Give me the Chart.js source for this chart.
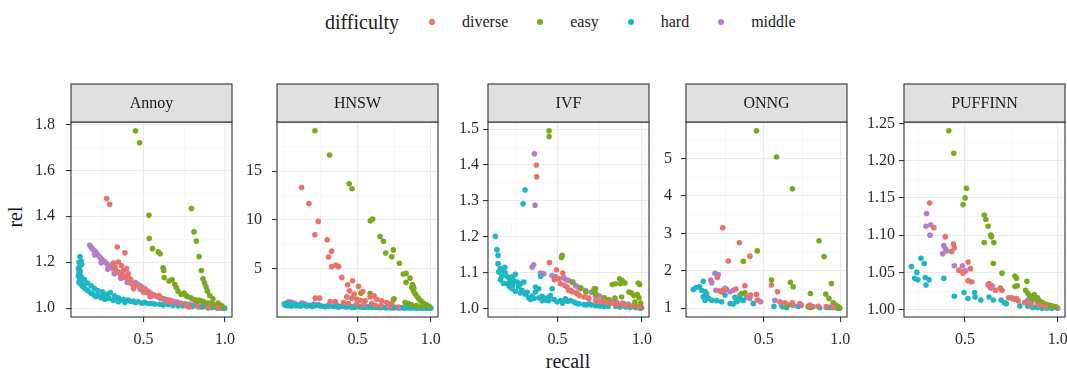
<!DOCTYPE html>
<html>
<head>
<meta charset="utf-8">
<script src="https://cdn.jsdelivr.net/npm/chart.js@4.4.0/dist/chart.umd.min.js"></script>
<style>
  html, body { margin: 0; padding: 0; background: #fff; }
  body { width: 1067px; height: 370px; overflow: hidden; position: relative;
         font-family: "Liberation Serif", "DejaVu Serif", serif; color: #1a1a1a; }
  canvas { position: absolute; }
  .lab { position: absolute; white-space: nowrap; line-height: 1; }
  #legend { position: absolute; left: 325px; top: 9px; height: 26px; display: flex; align-items: center; }
  #legend .title { font-size: 20px; margin-right: 30px; }
  #legend .dot { width: 6px; height: 6px; border-radius: 50%; margin-right: 27px; }
  #legend .txt { font-size: 16px; margin-right: 29px; }
</style>
</head>
<body>
<div id="legend"></div>
<div class="lab" id="ytitle" style="left:15px; top:217px; font-size:20px; transform:translate(-50%,-50%) rotate(-90deg);">rel</div>
<div class="lab" id="xtitle" style="left:568px; top:361px; font-size:20px; transform:translate(-50%,-50%);">recall</div>

<script>
// ---- categories ----
const algorithms = ['Annoy', 'HNSW', 'IVF', 'ONNG', 'PUFFINN'];
const difficulties = ['diverse', 'easy', 'hard', 'middle'];
const difficultyColors = ['#EC7169', '#79AA1E', '#1DB7C3', '#B47EC8'];

// ---- tick breaks and labels ----
const xBreaks = [0.5, 1.0];
const xLabels = ['0.5', '1.0'];
const annoyYBreaks = [1.0, 1.2, 1.4, 1.6, 1.8];
const annoyYLabels = ['1.0', '1.2', '1.4', '1.6', '1.8'];
const hnswYBreaks = [5, 10, 15];
const hnswYLabels = ['5', '10', '15'];
const ivfYBreaks = [1.0, 1.1, 1.2, 1.3, 1.4, 1.5];
const ivfYLabels = ['1.0', '1.1', '1.2', '1.3', '1.4', '1.5'];
const onngYBreaks = [1, 2, 3, 4, 5];
const onngYLabels = ['1', '2', '3', '4', '5'];
const puffinnYBreaks = [1.00, 1.05, 1.10, 1.15, 1.20, 1.25];
const puffinnYLabels = ['1.00', '1.05', '1.10', '1.15', '1.20', '1.25'];

// ---- measurements: [recall, rel] ----
const annoyDiverse = [[0.274,1.477],[0.292,1.452],[0.339,1.266],[0.386,1.241],[0.314,1.196],[0.325,1.179],[0.345,1.201],[0.365,1.186],[0.376,1.164],[0.396,1.172],[0.406,1.150],[0.416,1.128],[0.427,1.106],[0.447,1.099],[0.478,1.092],[0.508,1.084],[0.529,1.070],[0.559,1.055],[0.594,1.055],[0.620,1.041],[0.672,1.026],[0.722,1.019],[0.763,1.012],[0.835,1.007],[0.896,1.001],[0.957,1.001],[0.335,1.160],[0.355,1.150],[0.385,1.135],[0.440,1.085],[0.500,1.070],[0.540,1.050],[0.650,1.030],[0.780,1.005]];
const annoyEasy = [[0.451,1.772],[0.476,1.720],[0.533,1.404],[0.535,1.303],[0.555,1.259],[0.590,1.245],[0.602,1.237],[0.620,1.176],[0.624,1.164],[0.627,1.133],[0.657,1.118],[0.675,1.124],[0.692,1.103],[0.702,1.089],[0.712,1.074],[0.749,1.066],[0.769,1.051],[0.790,1.045],[0.818,1.036],[0.845,1.034],[0.871,1.026],[0.900,1.022],[0.926,1.016],[0.957,1.010],[0.988,1.004],[0.794,1.434],[0.810,1.332],[0.824,1.292],[0.841,1.225],[0.855,1.164],[0.865,1.128],[0.875,1.109],[0.884,1.092],[0.892,1.074],[0.906,1.055],[0.926,1.041],[0.957,1.022],[0.977,1.012],[0.730,1.060],[0.760,1.055],[0.800,1.040],[0.830,1.030],[0.860,1.030],[0.890,1.020],[0.920,1.020],[0.940,1.012],[0.970,1.006]];
const annoyHard = [[0.110,1.225],[0.117,1.205],[0.121,1.191],[0.100,1.172],[0.104,1.153],[0.117,1.138],[0.137,1.124],[0.157,1.109],[0.178,1.098],[0.198,1.086],[0.219,1.077],[0.247,1.071],[0.272,1.060],[0.296,1.068],[0.321,1.054],[0.345,1.045],[0.376,1.039],[0.406,1.035],[0.437,1.031],[0.467,1.028],[0.508,1.025],[0.549,1.020],[0.600,1.017],[0.651,1.015],[0.712,1.010],[0.773,1.009],[0.835,1.006],[0.896,1.004],[0.957,1.001],[0.998,1.000],[0.104,1.113],[0.125,1.095],[0.151,1.080],[0.178,1.065],[0.206,1.051],[0.239,1.045],[0.263,1.039],[0.288,1.042],[0.314,1.033],[0.345,1.028],[0.386,1.025],[0.105,1.200],[0.108,1.180],[0.112,1.160],[0.100,1.140],[0.108,1.125],[0.115,1.105],[0.130,1.100],[0.140,1.085],[0.160,1.075],[0.190,1.060],[0.220,1.055],[0.250,1.050],[0.280,1.050],[0.330,1.040],[0.360,1.035],[0.420,1.030],[0.450,1.025],[0.490,1.022],[0.530,1.020],[0.570,1.018],[0.620,1.014],[0.680,1.012],[0.740,1.010],[0.800,1.007],[0.860,1.005],[0.920,1.003],[0.980,1.001]];
const annoyMiddle = [[0.170,1.274],[0.186,1.259],[0.206,1.245],[0.227,1.226],[0.247,1.211],[0.274,1.194],[0.298,1.179],[0.329,1.165],[0.359,1.150],[0.390,1.135],[0.421,1.124],[0.451,1.111],[0.482,1.096],[0.512,1.080],[0.543,1.066],[0.584,1.051],[0.625,1.041],[0.665,1.034],[0.706,1.026],[0.757,1.019],[0.808,1.015],[0.859,1.010],[0.910,1.006],[0.961,1.002],[0.996,1.000],[0.200,1.232],[0.240,1.198],[0.280,1.170],[0.320,1.150],[0.360,1.130],[0.400,1.112],[0.440,1.098],[0.480,1.082],[0.520,1.068],[0.560,1.055],[0.600,1.044],[0.640,1.034],[0.680,1.026],[0.720,1.020],[0.760,1.014],[0.800,1.010],[0.850,1.006],[0.900,1.003],[0.950,1.001],[0.178,1.266],[0.196,1.252],[0.216,1.236],[0.237,1.218],[0.260,1.203],[0.286,1.186],[0.313,1.172],[0.344,1.157],[0.375,1.142],[0.405,1.118],[0.466,1.103],[0.497,1.088],[0.528,1.073],[0.563,1.058],[0.605,1.046],[0.645,1.037],[0.685,1.030],[0.730,1.022],[0.780,1.017],[0.830,1.012],[0.880,1.008],[0.930,1.004],[0.980,1.001]];

const hnswDiverse = [[0.118,13.32],[0.168,11.68],[0.209,8.49],[0.232,9.86],[0.293,7.98],[0.302,6.23],[0.323,6.82],[0.323,5.24],[0.352,5.41],[0.370,5.24],[0.393,4.14],[0.432,3.39],[0.466,3.80],[0.445,2.77],[0.507,3.22],[0.536,2.70],[0.477,2.43],[0.427,2.15],[0.461,2.02],[0.495,1.91],[0.518,1.81],[0.552,1.74],[0.586,2.15],[0.613,2.26],[0.632,1.91],[0.666,1.74],[0.700,1.57],[0.734,1.47],[0.211,2.02],[0.241,2.02],[0.313,1.68],[0.348,1.68],[0.404,1.57],[0.438,1.47],[0.495,1.40],[0.541,1.33],[0.597,1.47],[0.620,1.30],[0.660,1.25],[0.720,1.18],[0.780,1.12]];
const hnswEasy = [[0.209,19.11],[0.309,16.64],[0.443,13.70],[0.463,13.19],[0.588,9.93],[0.604,10.10],[0.654,8.32],[0.677,7.84],[0.693,6.64],[0.745,6.95],[0.734,6.26],[0.786,5.58],[0.813,4.48],[0.832,4.55],[0.832,3.63],[0.859,4.07],[0.875,3.40],[0.880,3.25],[0.885,3.00],[0.870,3.11],[0.882,2.77],[0.893,2.50],[0.904,2.26],[0.916,2.02],[0.927,1.81],[0.938,1.68],[0.954,1.47],[0.972,1.33],[0.990,1.20],[0.523,2.53],[0.586,2.50],[0.745,1.88],[0.750,1.95],[0.825,1.57],[0.847,1.47],[0.870,1.33],[0.904,1.27],[0.938,1.20]];
const hnswHard = [[0.000,1.45],[0.005,1.30],[0.010,1.38],[0.020,1.25],[0.030,1.42],[0.040,1.33],[0.050,1.22],[0.070,1.36],[0.090,1.28],[0.110,1.20],[0.130,1.32],[0.160,1.25],[0.190,1.18],[0.220,1.30],[0.250,1.22],[0.280,1.15],[0.310,1.25],[0.340,1.18],[0.370,1.12],[0.400,1.22],[0.430,1.15],[0.460,1.10],[0.490,1.18],[0.520,1.12],[0.550,1.08],[0.580,1.15],[0.610,1.10],[0.640,1.06],[0.670,1.12],[0.700,1.08],[0.730,1.05],[0.760,1.09],[0.800,1.05],[0.840,1.04],[0.880,1.03],[0.920,1.02],[0.960,1.01],[1.000,1.00],[0.015,1.32],[0.025,1.38],[0.035,1.28],[0.045,1.40],[0.060,1.30],[0.080,1.25],[0.100,1.35],[0.120,1.27],[0.150,1.22],[0.170,1.30],[0.210,1.24],[0.240,1.28],[0.270,1.20],[0.300,1.18],[0.330,1.22],[0.360,1.15],[0.390,1.18],[0.420,1.12],[0.450,1.15],[0.480,1.10],[0.510,1.14],[0.540,1.10],[0.570,1.12],[0.600,1.08],[0.630,1.10],[0.660,1.07],[0.690,1.05],[0.720,1.07],[0.750,1.04],[0.780,1.05],[0.820,1.03],[0.860,1.03],[0.900,1.02],[0.940,1.01],[0.980,1.00]];
const hnswMiddle = [[0.020,1.55],[0.030,1.65],[0.050,1.60],[0.070,1.50],[0.120,1.52],[0.140,1.45],[0.200,1.42],[0.230,1.38],[0.300,1.30],[0.360,1.28],[0.420,1.22],[0.480,1.18],[0.550,1.14],[0.620,1.12],[0.660,1.08],[0.700,1.06],[0.740,1.05],[0.780,1.04],[0.820,1.03],[0.860,1.02],[0.900,1.01],[0.940,1.01],[0.970,1.00],[1.000,1.00]];

const ivfDiverse = [[0.375,1.400],[0.377,1.367],[0.452,1.128],[0.494,1.108],[0.531,1.099],[0.482,1.080],[0.508,1.083],[0.518,1.069],[0.543,1.064],[0.557,1.060],[0.567,1.050],[0.587,1.047],[0.611,1.043],[0.630,1.036],[0.656,1.032],[0.686,1.027],[0.725,1.022],[0.765,1.020],[0.814,1.015],[0.854,1.011],[0.903,1.008],[0.942,1.006],[0.982,1.004],[0.580,1.050],[0.620,1.040],[0.680,1.030],[0.740,1.020],[0.790,1.017],[0.840,1.012],[0.890,1.009]];
const ivfEasy = [[0.450,1.495],[0.450,1.479],[0.527,1.148],[0.523,1.142],[0.591,1.074],[0.638,1.058],[0.668,1.046],[0.717,1.055],[0.727,1.041],[0.725,1.055],[0.715,1.048],[0.775,1.030],[0.840,1.029],[0.879,1.032],[0.824,1.067],[0.843,1.069],[0.867,1.083],[0.883,1.078],[0.899,1.071],[0.873,1.069],[0.923,1.046],[0.938,1.043],[0.952,1.036],[0.972,1.039],[0.982,1.030],[0.958,1.018],[0.992,1.015],[0.978,1.071],[0.986,1.067],[0.800,1.025],[0.900,1.012],[0.950,1.008],[0.990,1.003]];
const ivfHard = [[0.132,1.201],[0.142,1.164],[0.148,1.148],[0.148,1.125],[0.162,1.111],[0.152,1.102],[0.172,1.106],[0.188,1.115],[0.162,1.080],[0.201,1.089],[0.215,1.083],[0.231,1.088],[0.251,1.095],[0.241,1.078],[0.261,1.074],[0.281,1.069],[0.300,1.074],[0.201,1.069],[0.215,1.061],[0.231,1.055],[0.251,1.048],[0.281,1.043],[0.310,1.039],[0.330,1.030],[0.350,1.035],[0.369,1.046],[0.389,1.055],[0.409,1.034],[0.429,1.024],[0.449,1.022],[0.458,1.036],[0.468,1.055],[0.409,1.022],[0.498,1.018],[0.518,1.022],[0.547,1.027],[0.577,1.022],[0.597,1.018],[0.626,1.013],[0.656,1.011],[0.686,1.013],[0.725,1.008],[0.775,1.006],[0.844,1.006],[0.903,1.004],[0.962,1.002],[0.308,1.330],[0.296,1.292],[0.400,1.090],[0.370,1.060],[0.170,1.090],[0.180,1.070],[0.190,1.100],[0.220,1.070],[0.235,1.065],[0.270,1.060],[0.290,1.050],[0.320,1.045],[0.340,1.025],[0.360,1.028],[0.390,1.030],[0.440,1.030],[0.480,1.025],[0.530,1.015],[0.560,1.020],[0.610,1.015],[0.670,1.010],[0.700,1.010],[0.750,1.007],[0.800,1.006],[0.870,1.004],[0.930,1.003],[0.990,1.001]];
const ivfMiddle = [[0.363,1.431],[0.367,1.288],[0.359,1.122],[0.350,1.115],[0.399,1.099],[0.419,1.097],[0.468,1.092],[0.488,1.089],[0.508,1.083],[0.537,1.086],[0.567,1.078],[0.587,1.074],[0.607,1.064],[0.636,1.055],[0.666,1.050],[0.725,1.036],[0.775,1.030],[0.824,1.022],[0.883,1.015],[0.962,1.006],[0.998,1.002],[0.550,1.080],[0.620,1.060],[0.700,1.045],[0.750,1.035],[0.800,1.025],[0.850,1.018],[0.920,1.012],[0.980,1.004]];

const onngDiverse = [[0.231,3.15],[0.340,2.75],[0.268,2.26],[0.409,2.39],[0.196,1.82],[0.213,1.46],[0.224,1.44],[0.235,1.48],[0.376,1.60],[0.318,1.51],[0.413,1.35],[0.452,1.37],[0.457,1.21],[0.550,1.62],[0.590,1.44],[0.605,1.17],[0.637,1.14],[0.687,1.14],[0.735,1.12],[0.800,1.08],[0.855,1.05],[0.909,1.04],[0.953,1.02]];
const onngEasy = [[0.452,5.74],[0.583,5.04],[0.687,4.19],[0.861,2.80],[0.894,2.38],[0.457,2.53],[0.366,2.25],[0.550,1.75],[0.674,1.69],[0.692,1.57],[0.805,1.39],[0.942,1.66],[0.905,1.375],[0.926,1.26],[0.953,1.14],[0.970,1.08],[0.985,1.04],[0.996,1.00],[0.376,1.41],[0.355,1.39],[0.659,1.08],[0.790,1.04],[0.805,1.02]];
const onngHard = [[0.039,1.50],[0.057,1.55],[0.079,1.57],[0.104,1.72],[0.094,1.48],[0.116,1.44],[0.126,1.38],[0.104,1.30],[0.116,1.21],[0.137,1.26],[0.159,1.21],[0.192,1.20],[0.224,1.17],[0.246,1.35],[0.279,1.12],[0.300,1.11],[0.322,1.17],[0.333,1.21],[0.344,1.26],[0.311,1.29],[0.366,1.21],[0.431,1.12],[0.566,1.05],[0.622,1.04],[0.648,1.02],[0.724,1.05],[0.865,1.01],[0.931,1.02],[0.985,1.00]];
const onngMiddle = [[0.181,1.93],[0.202,1.90],[0.152,1.75],[0.159,1.68],[0.187,1.48],[0.246,1.53],[0.257,1.50],[0.279,1.44],[0.300,1.48],[0.344,1.35],[0.387,1.29],[0.409,1.26],[0.463,1.21],[0.479,1.17],[0.572,1.21],[0.616,1.08],[0.648,1.05],[0.692,1.08],[0.746,1.08],[0.822,1.04],[0.909,1.02],[0.975,1.02],[0.996,1.00]];

const puffinnDiverse = [[0.310,1.143],[0.333,1.110],[0.394,1.098],[0.438,1.088],[0.443,1.083],[0.429,1.078],[0.468,1.053],[0.490,1.049],[0.517,1.064],[0.530,1.055],[0.517,1.039],[0.537,1.037],[0.630,1.035],[0.635,1.031],[0.665,1.026],[0.691,1.029],[0.700,1.026],[0.735,1.016],[0.761,1.014],[0.778,1.015],[0.787,1.012],[0.822,1.0095],[0.857,1.007],[0.900,1.006],[0.935,1.004]];
const puffinnEasy = [[0.413,1.240],[0.440,1.210],[0.508,1.163],[0.501,1.150],[0.490,1.141],[0.604,1.127],[0.613,1.121],[0.625,1.112],[0.639,1.100],[0.643,1.098],[0.604,1.090],[0.656,1.090],[0.653,1.062],[0.700,1.049],[0.770,1.045],[0.778,1.042],[0.770,1.031],[0.782,1.032],[0.834,1.038],[0.827,1.026],[0.839,1.022],[0.848,1.019],[0.857,1.016],[0.866,1.015],[0.874,1.020],[0.892,1.016],[0.883,1.014],[0.901,1.012],[0.918,1.0095],[0.935,1.007],[0.953,1.006],[0.970,1.005],[0.988,1.004]];
const puffinnHard = [[0.211,1.058],[0.263,1.069],[0.281,1.062],[0.241,1.050],[0.229,1.042],[0.246,1.040],[0.286,1.043],[0.307,1.040],[0.290,1.033],[0.386,1.042],[0.443,1.018],[0.495,1.023],[0.516,1.015],[0.552,1.023],[0.555,1.017],[0.586,1.013],[0.630,1.017],[0.653,1.013],[0.695,1.013],[0.712,1.0095],[0.723,1.008],[0.796,1.005],[0.839,1.005],[0.865,1.003],[0.890,1.003],[0.916,1.002],[0.942,1.002],[0.968,1.002]];
const puffinnMiddle = [[0.293,1.129],[0.290,1.112],[0.316,1.114],[0.312,1.100],[0.386,1.086],[0.394,1.082],[0.403,1.079],[0.380,1.075],[0.443,1.059],[0.487,1.059],[0.504,1.052],[0.492,1.051],[0.625,1.033],[0.647,1.032],[0.639,1.029],[0.752,1.016],[0.770,1.014],[0.839,1.013],[0.857,1.011],[0.890,1.008],[0.935,1.005],[0.960,1.004],[0.978,1.003],[1.000,1.002]];

// ---- facet assembly ----
const panelSeries = [
  [annoyDiverse, annoyEasy, annoyHard, annoyMiddle],
  [hnswDiverse, hnswEasy, hnswHard, hnswMiddle],
  [ivfDiverse, ivfEasy, ivfHard, ivfMiddle],
  [onngDiverse, onngEasy, onngHard, onngMiddle],
  [puffinnDiverse, puffinnEasy, puffinnHard, puffinnMiddle]
];
const panelYBreaks = [annoyYBreaks, hnswYBreaks, ivfYBreaks, onngYBreaks, puffinnYBreaks];
const panelYLabels = [annoyYLabels, hnswYLabels, ivfYLabels, onngYLabels, puffinnYLabels];

// layout (pixels)
const PANEL_LEFT = [71, 277, 488, 686, 904];
const PANEL_W = 161;
const PANEL_TOP = 122, PANEL_BOTTOM = 317;
const STRIP_H = 38;
const AXIS_W = 60, RIGHT_PAD = 18, TOP_PAD = 42, X_AXIS_H = 44;
const Y_LABEL_GAP = [11, 10, 4, 9, 4];
const SMALL_FONT = { family: '"Liberation Serif", serif', size: 16 };

// legend
const legend = document.getElementById('legend');
const lt = document.createElement('span'); lt.className = 'title'; lt.textContent = 'difficulty'; legend.appendChild(lt);
difficulties.forEach((d, k) => {
  const dot = document.createElement('span'); dot.className = 'dot'; dot.style.background = difficultyColors[k];
  const t = document.createElement('span'); t.className = 'txt'; t.textContent = d;
  legend.appendChild(dot); legend.appendChild(t);
});

// ggplot-style continuous limits: data range expanded by 5% on each side
function expandRange(vals) {
  const lo = Math.min(...vals), hi = Math.max(...vals);
  const pad = (hi - lo) * 0.05;
  return [lo - pad, hi + pad];
}
// minor breaks: halfway between majors, plus one major step beyond each end
function minorBreaks(major, lim) {
  const step = major[1] - major[0];
  const ext = [major[0] - step, ...major, major[major.length - 1] + step];
  const out = [];
  for (let k = 0; k < ext.length; k++) {
    if (!major.some(m => Math.abs(m - ext[k]) < 1e-9)) out.push(ext[k]);
    if (k < ext.length - 1) out.push((ext[k] + ext[k + 1]) / 2);
  }
  return out.filter(v => v >= lim[0] && v <= lim[1]);
}
const isIn = (arr, v) => arr.findIndex(m => Math.abs(m - v) < 1e-9);

const panelFrame = {
  id: 'panelFrame',
  afterDraw(chart, args, opts) {
    const { ctx, chartArea: a } = chart;
    ctx.save();
    ctx.lineWidth = 1.1;
    ctx.strokeStyle = '#333333';
    ctx.strokeRect(a.left, a.top, a.right - a.left, a.bottom - a.top);
    ctx.fillStyle = '#E0E0E0';
    ctx.fillRect(a.left, a.top - STRIP_H, a.right - a.left, STRIP_H);
    ctx.strokeRect(a.left, a.top - STRIP_H, a.right - a.left, STRIP_H);
    ctx.fillStyle = '#1a1a1a';
    ctx.font = '16px "Liberation Serif", serif';
    ctx.textAlign = 'center';
    ctx.textBaseline = 'middle';
    ctx.fillText(opts.title, (a.left + a.right) / 2, a.top - STRIP_H / 2 + 1);
    ctx.restore();
  }
};

function axisScale(lim, major, labels, minor, isX, gap) {
  const all = [...major, ...minor].sort((p, q) => p - q);
  return {
    type: 'linear',
    min: lim[0], max: lim[1],
    afterBuildTicks: s => { s.ticks = all.map(v => ({ value: v })); },
    afterFit: s => { if (isX) s.height = X_AXIS_H; else s.width = AXIS_W; },
    border: { display: false },
    grid: {
      drawOnChartArea: true,
      drawTicks: true,
      tickLength: 5,
      color: c => (c.tick && isIn(major, c.tick.value) >= 0) ? '#EBEBEB' : '#F3F3F3',
      lineWidth: c => (c.tick && isIn(major, c.tick.value) >= 0) ? 1.1 : 0.6,
      tickColor: c => (c.tick && isIn(major, c.tick.value) >= 0) ? '#333333' : 'rgba(0,0,0,0)',
      tickWidth: 1.1
    },
    ticks: {
      autoSkip: false, maxRotation: 0, minRotation: 0,
      padding: gap,
      color: '#2a2a2a',
      font: SMALL_FONT,
      callback: v => { const k = isIn(major, v); return k >= 0 ? labels[k] : ''; }
    }
  };
}

algorithms.forEach((name, i) => {
  const series = panelSeries[i];
  const pts = series.flat();
  const xlim = expandRange(pts.map(p => p[0]));
  const ylim = expandRange(pts.map(p => p[1]));
  const yMajor = panelYBreaks[i];

  const cv = document.createElement('canvas');
  const W = AXIS_W + PANEL_W + RIGHT_PAD;
  const H = TOP_PAD + (PANEL_BOTTOM - PANEL_TOP) + X_AXIS_H;
  cv.width = W; cv.height = H;
  cv.style.width = W + 'px'; cv.style.height = H + 'px';
  cv.style.left = (PANEL_LEFT[i] - AXIS_W) + 'px';
  cv.style.top = (PANEL_TOP - TOP_PAD) + 'px';
  document.body.appendChild(cv);

  new Chart(cv, {
    type: 'scatter',
    data: {
      datasets: series.map((arr, k) => ({
        label: difficulties[k],
        data: arr.map(p => ({ x: p[0], y: p[1] })),
        backgroundColor: difficultyColors[k],
        borderColor: difficultyColors[k],
        borderWidth: 0,
        pointRadius: 2.8,
        pointHoverRadius: 2.8
      }))
    },
    options: {
      responsive: false,
      animation: false,
      devicePixelRatio: 1,
      layout: { padding: { top: TOP_PAD, right: RIGHT_PAD, left: 0, bottom: 0 } },
      plugins: { legend: { display: false }, tooltip: { enabled: false }, panelFrame: { title: name } },
      events: [],
      scales: {
        x: axisScale(xlim, xBreaks, xLabels, minorBreaks(xBreaks, xlim), true, 8),
        y: axisScale(ylim, yMajor, panelYLabels[i], minorBreaks(yMajor, ylim), false, Y_LABEL_GAP[i])
      }
    },
    plugins: [panelFrame]
  });
});
</script>
</body>
</html>
